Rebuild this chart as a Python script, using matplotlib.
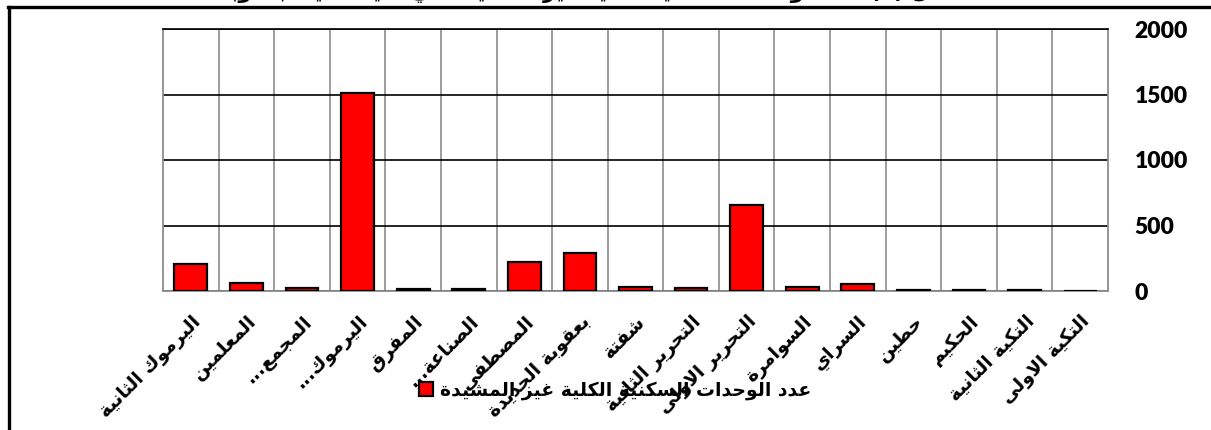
import matplotlib
matplotlib.use("Agg")
import matplotlib.pyplot as plt
from matplotlib.lines import Line2D
import numpy as np

# ---------------- data ----------------
categories = ["اليرموك الثانية", "المعلمين", "المجمع...", "اليرموك...", "المفرق",
              "الصناعة...", "المصطفى", "بعقوبة الجديدة", "شفتة", "التحرير الثانية",
              "التحرير الاولى", "السوامرة", "السراي", "حطين", "الحكيم",
              "التكية الثانية", "التكية الاولى"]
values = [205, 60, 20, 1515, 12, 12, 225, 290, 30, 25, 660, 30, 55, 7, 5, 4, 0]
series_name = "عدد الوحدات السكنية الكلية غير المشيدة"
title_text = "شكل (2) عدد الوحدات السكنية الكلية غير المشيدة في أحياء مدينة بعقوبة"
yticks = [0, 500, 1000, 1500, 2000]

# ---------------- simple Arabic shaping (matplotlib has no shaping) ----------------
DUAL = {'ب': 0xFE8F, 'ت': 0xFE95, 'ث': 0xFE99, 'ج': 0xFE9D, 'ح': 0xFEA1, 'خ': 0xFEA5,
        'س': 0xFEB1, 'ش': 0xFEB5, 'ص': 0xFEB9, 'ض': 0xFEBD, 'ط': 0xFEC1, 'ظ': 0xFEC5,
        'ع': 0xFEC9, 'غ': 0xFECD, 'ف': 0xFED1, 'ق': 0xFED5, 'ك': 0xFED9, 'ل': 0xFEDD,
        'م': 0xFEE1, 'ن': 0xFEE5, 'ه': 0xFEE9, 'ي': 0xFEF1, 'ئ': 0xFE89}
RIGHT = {'ا': 0xFE8D, 'أ': 0xFE83, 'إ': 0xFE87, 'آ': 0xFE81, 'ة': 0xFE93, 'د': 0xFEA9,
         'ذ': 0xFEAB, 'ر': 0xFEAD, 'ز': 0xFEAF, 'و': 0xFEED, 'ى': 0xFEEF, 'ؤ': 0xFE85}
LAMALEF = {'ا': 0xFEFB, 'أ': 0xFEF7, 'إ': 0xFEF9, 'آ': 0xFEF5}
MIRROR = {'(': ')', ')': '('}


def shape(s):
    ch = list(s)
    n = len(ch)
    out = []
    i = 0
    while i < n:
        c = ch[i]
        pc = i > 0 and ch[i - 1] in DUAL
        if c == 'ل' and i + 1 < n and ch[i + 1] in LAMALEF:
            out.append(chr(LAMALEF[ch[i + 1]] + (1 if pc else 0)))
            i += 2
            continue
        if c in DUAL or c in RIGHT:
            nx = ch[i + 1] if i + 1 < n else None
            nc = c in DUAL and nx is not None and (nx in DUAL or nx in RIGHT)
            base = DUAL.get(c, RIGHT.get(c))
            if pc and nc:
                f = base + 3
            elif pc:
                f = base + 1
            elif nc:
                f = base + 2
            else:
                f = base
            out.append(chr(f))
        else:
            out.append(c)
        i += 1
    return ''.join(MIRROR.get(x, x) for x in reversed(out))


# ---------------- figure ----------------
W, H = 1211, 430
fig = plt.figure(figsize=(W / 100, H / 100), dpi=100)
fig.patch.set_facecolor("white")

x0, x1, ytop, ybot = 163, 1108, 29, 291
ax = fig.add_axes([x0 / W, 1 - ybot / H, (x1 - x0) / W, (ybot - ytop) / H])

x = np.arange(len(categories))
ax.bar(x, values, width=0.59, color="#ff0000", edgecolor="black", linewidth=1.6,
       zorder=3, label=shape(series_name))

ax.set_xlim(-0.5, len(categories) - 0.5)
ax.set_ylim(0, 2000)

# grid
ax.set_yticks(yticks)
ax.yaxis.grid(True, color="black", linewidth=1.2, zorder=1)
ax.set_xticks(np.arange(0.5, len(categories) - 0.5, 1), minor=True)
ax.xaxis.grid(True, which="minor", color="#8c8c8c", linewidth=1.2, zorder=1)
ax.tick_params(axis="x", which="minor", length=0)

for side in ["left", "bottom", "right"]:
    ax.spines[side].set_color("#8c8c8c")
    ax.spines[side].set_linewidth(1.3)
ax.spines["top"].set_color("black")
ax.spines["top"].set_linewidth(1.2)

# y axis labels on right
ax.yaxis.tick_right()
ax.tick_params(axis="y", length=0, pad=19)
for lab in ax.get_yticklabels():
    lab.set_fontfamily("Lato")
    lab.set_fontweight("heavy")
    lab.set_fontsize(16.5)
    lab.set_color("black")

# x labels
ax.set_xticks(x)
ax.set_xticklabels([shape(c) for c in categories], rotation=45, ha="right", va="top",
                   rotation_mode="anchor", fontsize=13.5, fontweight="bold",
                   family=["DejaVu Sans"])
ax.tick_params(axis="x", which="major", length=0, pad=15)

# legend
fig.legend(loc="center", bbox_to_anchor=((423 + 807) / 2 / W, 1 - 390 / H),
           frameon=False, handlelength=0.75, handleheight=0.75, handletextpad=0.4,
           prop={"family": "DejaVu Sans", "weight": "bold", "size": 13.5})

# title (mostly cut off at the top of the picture, as in the reference)
fig.text(590 / W, 1 + 2 / H, shape(title_text), ha="center", va="baseline",
         fontsize=15, fontweight="bold", family="DejaVu Sans")

# outer frame (extends beyond right and bottom edges)
fig.add_artist(Line2D([8 / W, 1.01], [1 - 6.5 / H, 1 - 6.5 / H], transform=fig.transFigure,
                      color="black", linewidth=2.4))
fig.add_artist(Line2D([8.5 / W, 8.5 / W], [-0.01, 1 - 6.5 / H], transform=fig.transFigure,
                      color="black", linewidth=2.4))

fig.savefig("out.png", dpi=100, facecolor="white")
